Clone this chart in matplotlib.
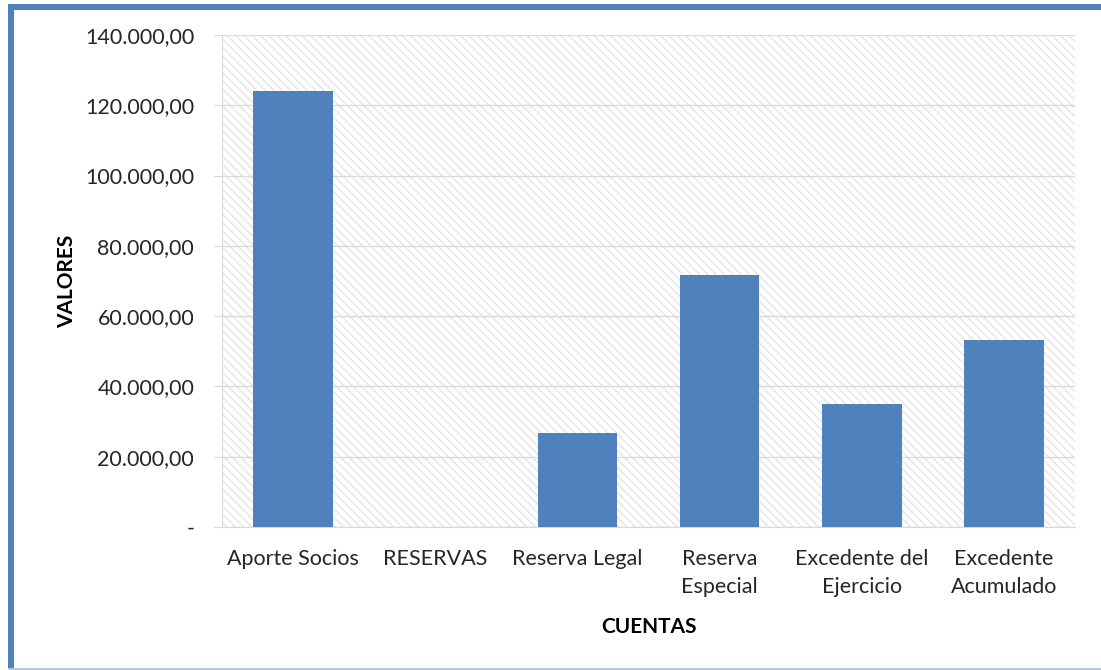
import matplotlib
matplotlib.use("Agg")
import matplotlib.pyplot as plt
from matplotlib.patches import Rectangle
from matplotlib.ticker import FuncFormatter

categories = ["Aporte Socios", "RESERVAS", "Reserva Legal", "Reserva\nEspecial",
              "Excedente del\nEjercicio", "Excedente\nAcumulado"]
valores = [124000, 0, 26700, 71700, 35000, 53200]
y_ticks = [0, 20000, 40000, 60000, 80000, 100000, 120000, 140000]

plt.rcParams["font.family"] = ["Lato", "DejaVu Sans"]
plt.rcParams["hatch.linewidth"] = 0.8

W, H = 1101, 670
fig = plt.figure(figsize=(W / 100, H / 100), dpi=100)

# frame around the chart
fig.patches.append(Rectangle((8 / W, 0), 6 / W, (H - 4) / H, transform=fig.transFigure,
                             facecolor="#4f81bd", edgecolor="none"))
fig.patches.append(Rectangle((8 / W, (H - 10) / H), (W - 8) / W, 6 / H, transform=fig.transFigure,
                             facecolor="#4f81bd", edgecolor="none"))
fig.patches.append(Rectangle((8 / W, 0), (W - 8) / W, 2 / H, transform=fig.transFigure,
                             facecolor="#b8c7dd", edgecolor="none"))

left, right, top, bottom = 222, 1075, 35, 527
ax = fig.add_axes([left / W, 1 - bottom / H, (right - left) / W, (bottom - top) / H])

# hatched plot area
ax.add_patch(Rectangle((0, 0), 1, 1, transform=ax.transAxes, facecolor="white",
                       edgecolor="#e0e0e0", hatch="\\\\\\\\", linewidth=0, zorder=0))

x = list(range(len(categories)))
ax.bar(x, valores, width=0.56, color="#4f81bd", zorder=3)

ax.set_xlim(-0.5, len(categories) - 0.5)
ax.set_ylim(0, 140000)
ax.set_yticks(y_ticks)
ax.yaxis.set_major_formatter(FuncFormatter(
    lambda v, p: "-" if v == 0 else f"{v:,.2f}".replace(",", "X").replace(".", ",").replace("X", ".")))
ax.grid(axis="y", color="#d9d9d9", linewidth=1, zorder=1)
ax.set_axisbelow(True)

ax.set_xticks(x)
ax.set_xticklabels(categories, fontsize=15.5, color="#262626", linespacing=1.5)
ax.tick_params(axis="x", length=0, pad=16)
ax.tick_params(axis="y", length=6, color="#d9d9d9", labelsize=15.5, labelcolor="#262626", pad=14)

for s in ["top", "right"]:
    ax.spines[s].set_visible(False)
ax.spines["left"].set_color("#d9d9d9")
ax.spines["bottom"].set_color("#d9d9d9")

ax.set_ylabel("VALORES", fontsize=15, fontweight="bold", color="#000000", labelpad=6)
ax.set_xlabel("CUENTAS", fontsize=15, fontweight="bold", color="#000000", labelpad=14)

fig.savefig("out.png", dpi=100)
